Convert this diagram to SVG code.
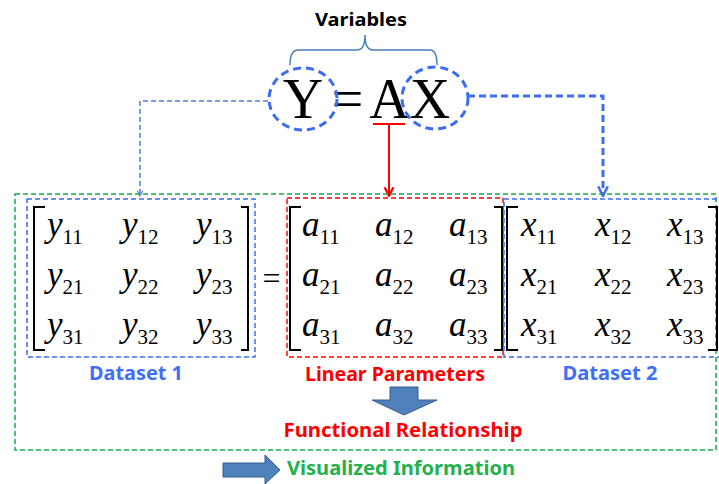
<svg xmlns="http://www.w3.org/2000/svg" width="719" height="484" viewBox="0 0 719 484">
<defs>
<marker id="arrBlueThin" viewBox="0 0 10 10" refX="9" refY="5" markerWidth="7" markerHeight="7" orient="auto" markerUnits="userSpaceOnUse">
<path d="M1,1 L9,5 L1,9" fill="none" stroke="#4a7ed4" stroke-width="1.5"/>
</marker>
<marker id="arrBlue" viewBox="0 0 10 10" refX="9" refY="5" markerWidth="12" markerHeight="12" orient="auto" markerUnits="userSpaceOnUse">
<path d="M1,1 L9,5 L1,9" fill="none" stroke="#3b6ef0" stroke-width="2"/>
</marker>
<marker id="arrRed" viewBox="0 0 10 10" refX="9" refY="5" markerWidth="11" markerHeight="11" orient="auto" markerUnits="userSpaceOnUse">
<path d="M1,1 L9,5 L1,9" fill="none" stroke="#ff0000" stroke-width="2"/>
</marker>
</defs>
<style>
.lbl{font-family:"Noto Sans","Liberation Sans",sans-serif;font-weight:bold;}
.m{font-family:"Liberation Serif","Times New Roman",serif;font-style:italic;font-size:35px;fill:#000;}
.m tspan.s{font-style:normal;font-size:21px;}
.br{fill:none;stroke:#000;stroke-width:2;}
.big{font-family:"Liberation Serif","Times New Roman",serif;font-size:56px;fill:#000;text-anchor:middle;}
.dash{fill:none;stroke-width:1.5;stroke-dasharray:5 3;}
</style>
<rect width="719" height="484" fill="#fff"/>

<g id="variables">
<text class="lbl" x="361" y="26" font-size="17" text-anchor="middle" textLength="92" lengthAdjust="spacingAndGlyphs">Variables</text>
<path d="M290,65 Q290,50 298,50 H357 Q365,50 365,35 Q365,50 373,50 H430 Q437,50 437,65" fill="none" stroke="#4a7ebb" stroke-width="1.5"/>
</g>

<g id="equation">
<text class="big" x="303" y="118">Y</text>
<text class="big" x="347.5" y="118">=</text>
<text class="big" x="389.5" y="118">A</text>
<text class="big" x="430" y="118">X</text>
<line x1="373" y1="124" x2="405" y2="124" stroke="#ff0000" stroke-width="2"/>
<ellipse cx="303" cy="99" rx="34" ry="31" fill="none" stroke="#3a6cf4" stroke-width="3" stroke-dasharray="8 5"/>
<ellipse cx="435" cy="98" rx="33" ry="31" fill="none" stroke="#3a6cf4" stroke-width="3" stroke-dasharray="8 5"/>
</g>

<g id="connectors">
<polyline points="268,101 140,101 140,196" fill="none" stroke="#4a7ed4" stroke-width="1.5" stroke-dasharray="5 3" marker-end="url(#arrBlueThin)"/>
<polyline points="468,96 603,96 603,196" fill="none" stroke="#3b6ef0" stroke-width="3" stroke-dasharray="7 4" marker-end="url(#arrBlue)"/>
<line x1="389" y1="124" x2="389" y2="196" stroke="#ff0000" stroke-width="2" marker-end="url(#arrRed)"/>
</g>

<g id="functional-box">
<rect x="15" y="194" width="701" height="256" class="dash" stroke="#1aa84a"/>
</g>

<g id="dataset1">
<rect x="27" y="199" width="228" height="158" class="dash" stroke="#3a6cf4"/>
<path class="br" d="M45,207 H34 V350 H45 M241,207 H248 V350 H241"/>
<text class="m" x="47" y="236">y<tspan class="s" dy="8">11</tspan></text>
<text class="m" x="122" y="236">y<tspan class="s" dy="8">12</tspan></text>
<text class="m" x="196" y="236">y<tspan class="s" dy="8">13</tspan></text>
<text class="m" x="47" y="286">y<tspan class="s" dy="8">21</tspan></text>
<text class="m" x="122" y="286">y<tspan class="s" dy="8">22</tspan></text>
<text class="m" x="196" y="286">y<tspan class="s" dy="8">23</tspan></text>
<text class="m" x="47" y="336">y<tspan class="s" dy="8">31</tspan></text>
<text class="m" x="122" y="336">y<tspan class="s" dy="8">32</tspan></text>
<text class="m" x="196" y="336">y<tspan class="s" dy="8">33</tspan></text>
<text class="lbl" x="136" y="380" font-size="19" fill="#3f6ff5" text-anchor="middle" textLength="94" lengthAdjust="spacingAndGlyphs">Dataset 1</text>
</g>

<text x="271.5" y="289" font-family="Liberation Serif, serif" font-size="32" text-anchor="middle">=</text>

<g id="parameters">
<rect x="287" y="198" width="216" height="159" class="dash" stroke="#ff0000"/>
<path class="br" d="M301,207 H290 V350 H301 M494,207 H502 V350 H494"/>
<text class="m" x="302" y="236">a<tspan class="s" dy="8">11</tspan></text>
<text class="m" x="375" y="236">a<tspan class="s" dy="8">12</tspan></text>
<text class="m" x="449" y="236">a<tspan class="s" dy="8">13</tspan></text>
<text class="m" x="302" y="286">a<tspan class="s" dy="8">21</tspan></text>
<text class="m" x="375" y="286">a<tspan class="s" dy="8">22</tspan></text>
<text class="m" x="449" y="286">a<tspan class="s" dy="8">23</tspan></text>
<text class="m" x="302" y="336">a<tspan class="s" dy="8">31</tspan></text>
<text class="m" x="375" y="336">a<tspan class="s" dy="8">32</tspan></text>
<text class="m" x="449" y="336">a<tspan class="s" dy="8">33</tspan></text>
<text class="lbl" x="395" y="381" font-size="19" fill="#ff0000" text-anchor="middle" textLength="180" lengthAdjust="spacingAndGlyphs">Linear Parameters</text>
</g>

<g id="dataset2">
<rect x="504" y="199" width="222" height="158" class="dash" stroke="#3a6cf4"/>
<path class="br" d="M518,207 H507 V350 H518 M708,207 H717 V350 H708"/>
<text class="m" x="521" y="236">x<tspan class="s" dy="8">11</tspan></text>
<text class="m" x="595" y="236">x<tspan class="s" dy="8">12</tspan></text>
<text class="m" x="667" y="236">x<tspan class="s" dy="8">13</tspan></text>
<text class="m" x="521" y="286">x<tspan class="s" dy="8">21</tspan></text>
<text class="m" x="595" y="286">x<tspan class="s" dy="8">22</tspan></text>
<text class="m" x="667" y="286">x<tspan class="s" dy="8">23</tspan></text>
<text class="m" x="521" y="336">x<tspan class="s" dy="8">31</tspan></text>
<text class="m" x="595" y="336">x<tspan class="s" dy="8">32</tspan></text>
<text class="m" x="667" y="336">x<tspan class="s" dy="8">33</tspan></text>
<text class="lbl" x="610" y="380" font-size="19" fill="#3f6ff5" text-anchor="middle" textLength="95" lengthAdjust="spacingAndGlyphs">Dataset 2</text>
</g>

<g id="functional">
<polygon points="390,387 418,387 418,400 437,400 404,415 372,400 390,400" fill="#4f81bd" stroke="#385d8a" stroke-width="1"/>
<text class="lbl" x="403" y="437" font-size="19" fill="#ff0000" text-anchor="middle" textLength="239" lengthAdjust="spacingAndGlyphs">Functional Relationship</text>
</g>

<g id="visualized">
<polygon points="223,463 265,463 265,455 280,470 265,484 265,477 223,477" fill="#4f81bd" stroke="#385d8a" stroke-width="1"/>
<text class="lbl" x="287" y="475" font-size="19" fill="#22b14c" textLength="228" lengthAdjust="spacingAndGlyphs">Visualized Information</text>
</g>
</svg>
